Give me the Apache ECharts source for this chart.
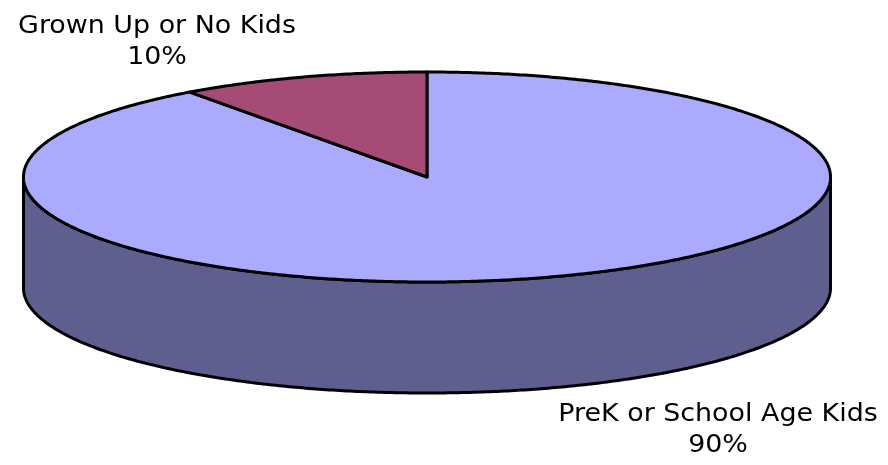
<!DOCTYPE html>
<html><head><meta charset="utf-8">
<script src="https://cdn.jsdelivr.net/npm/echarts@6/dist/echarts.min.js"></script>
<style>html,body{margin:0;padding:0;background:#fff}#c{width:888px;height:465px}</style>
</head><body><div id="c"></div>
<script>
// ---- data ----
const categories = ['PreK or School Age Kids', 'Grown Up or No Kids'];
const values = [90, 10];
const percentLabels = ['90%', '10%'];

// ---- styles / layout ----
const topColors = ['#AAAAFF', '#A64A76'];
const sideColors = ['#5F5F8F', '#6A2F4C'];
const CX = 427, CY = 177, RX = 403.5, RY = 105, DEPTH = 111;
const labelPos = [[718, 399], [157, 11]];
const FONT = '24px "DejaVu Sans", Verdana, sans-serif';

const total = values.reduce((a, b) => a + b, 0);

function pt(deg, dy) {
  const r = deg * Math.PI / 180;
  return [CX + RX * Math.sin(r), CY - RY * Math.cos(r) + (dy || 0)];
}
function arc(a0, a1, dy) {
  const pts = [];
  const n = Math.max(2, Math.ceil(Math.abs(a1 - a0) / 0.5));
  for (let k = 0; k <= n; k++) pts.push(pt(a0 + (a1 - a0) * k / n, dy));
  return pts;
}

function renderItem(params, api) {
  const i = params.dataIndex;
  let before = 0;
  for (let k = 0; k < i; k++) before += values[k];
  const a0 = before / total * 360;
  const a1 = (before + api.value(0)) / total * 360;
  const children = [];
  // visible side (front half: 90..270 degrees)
  const s = Math.max(a0, 90), e = Math.min(a1, 270);
  if (e > s) {
    const pts = arc(s, e, 0).concat(arc(e, s, DEPTH));
    children.push({
      type: 'polygon', shape: { points: pts },
      style: { fill: sideColors[i], stroke: '#000', lineWidth: 3, lineJoin: 'round' }
    });
  }
  // top face
  const topPts = [[CX, CY]].concat(arc(a0, a1, 0));
  children.push({
    type: 'polygon', shape: { points: topPts }, z2: 10,
    style: { fill: topColors[i], stroke: '#000', lineWidth: 3, lineJoin: 'round' }
  });
  // label
  children.push({
    type: 'text', x: labelPos[i][0], y: labelPos[i][1], scaleX: 1.12, z2: 20,
    style: {
      text: categories[i] + '\n' + percentLabels[i],
      font: FONT, fill: '#000', textAlign: 'center', textVerticalAlign: 'top', lineHeight: 31
    }
  });
  return { type: 'group', children };
}

const chart = echarts.init(document.getElementById('c'));
chart.setOption({
  backgroundColor: '#fff',
  animation: false,
  series: [{
    type: 'custom',
    coordinateSystem: 'none',
    silent: true,
    renderItem,
    data: values.map((v, i) => ({ name: categories[i], value: v }))
  }]
});
</script>
</body></html>
